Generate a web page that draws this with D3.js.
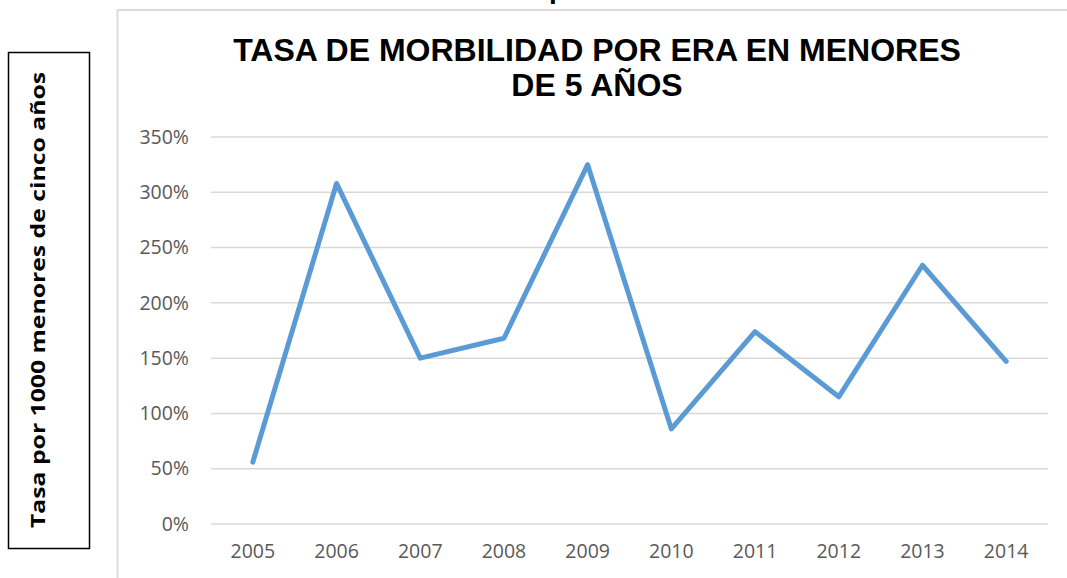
<!DOCTYPE html>
<html>
<head>
<meta charset="utf-8">
<script src="https://cdn.jsdelivr.net/npm/d3@7"></script>
<style>
  body { margin: 0; background: #fff; }
  svg { display: block; }
</style>
</head>
<body>
<svg id="chart" width="1067" height="578"></svg>
<script>
// data
var years = ["2005", "2006", "2007", "2008", "2009", "2010", "2011", "2012", "2013", "2014"];
var rates = [56, 308, 150, 168, 325, 86, 174, 115, 234, 147];
var yTicks = [0, 50, 100, 150, 200, 250, 300, 350];
var titleLines = ["TASA DE MORBILIDAD POR ERA EN MENORES", "DE 5 AÑOS"];
var axisTitle = "Tasa por 1000 menores de cinco años";

var svg = d3.select("#chart");

// piece of text cut off at the top
svg.append("text")
	.attr("x", 549)
	.attr("y", -2)
	.style("font", "bold 28px 'Liberation Sans', Arial, sans-serif")
	.text("p");

// chart area border
svg.append("rect")
	.attr("x", 117.5)
	.attr("y", 10)
	.attr("width", 1000)
	.attr("height", 700)
	.attr("fill", "none")
	.attr("stroke", "#d9d9d9")
	.attr("stroke-width", 1.8);

// left box with axis title
svg.append("rect")
	.attr("x", 8.5)
	.attr("y", 52.5)
	.attr("width", 81)
	.attr("height", 496)
	.attr("fill", "#fff")
	.attr("stroke", "#000")
	.attr("stroke-width", 1.5);

svg.append("text")
	.attr("transform", "translate(45,300) rotate(-90)")
	.attr("text-anchor", "middle")
	.style("font", "bold 20px 'Open Sans', sans-serif")
	.attr("textLength", 456)
	.attr("lengthAdjust", "spacingAndGlyphs")
	.text(axisTitle);

// title
svg.append("text")
	.attr("text-anchor", "middle")
	.style("font", "bold 32px 'Liberation Sans', Arial, sans-serif")
	.selectAll("tspan")
	.data(titleLines)
	.enter()
	.append("tspan")
		.attr("x", 597)
		.attr("y", function(d, i) { return 61 + i * 35; })
		.text(function(d) { return d; });

// scales
var x = d3.scaleBand()
	.domain(years)
	.range([211, 1048]);
var y = d3.scaleLinear()
	.domain([0, 350])
	.range([524, 137]);

// gridlines
svg.append("g")
	.selectAll("line")
	.data(yTicks)
	.enter()
	.append("line")
		.attr("x1", 211)
		.attr("x2", 1048)
		.attr("y1", function(d) { return y(d); })
		.attr("y2", function(d) { return y(d); })
		.attr("stroke", "#d9d9d9")
		.attr("stroke-width", 1.5);

// y axis
var yAxis = svg.append("g")
	.attr("transform", "translate(211,0)")
	.call(d3.axisLeft(y).tickValues(yTicks).tickSize(0).tickPadding(22)
		.tickFormat(function(d) { return d + "%"; }));
yAxis.select(".domain").remove();
yAxis.selectAll("text")
	.attr("fill", "#595959")
	.style("font", "19.5px 'Open Sans', sans-serif");

// x axis
var xAxis = svg.append("g")
	.attr("transform", "translate(0,524)")
	.call(d3.axisBottom(x).tickSize(0).tickPadding(20));
xAxis.select(".domain").remove();
xAxis.selectAll("text")
	.attr("fill", "#595959")
	.style("font", "19.5px 'Open Sans', sans-serif");

// the line
var line = d3.line()
	.x(function(d, i) { return x(years[i]) + x.bandwidth() / 2; })
	.y(function(d) { return y(d); });

svg.append("path")
	.datum(rates)
	.attr("d", line)
	.attr("fill", "none")
	.attr("stroke", "#5b9bd5")
	.attr("stroke-width", 5)
	.attr("stroke-linejoin", "round")
	.attr("stroke-linecap", "round");
</script>
</body>
</html>
